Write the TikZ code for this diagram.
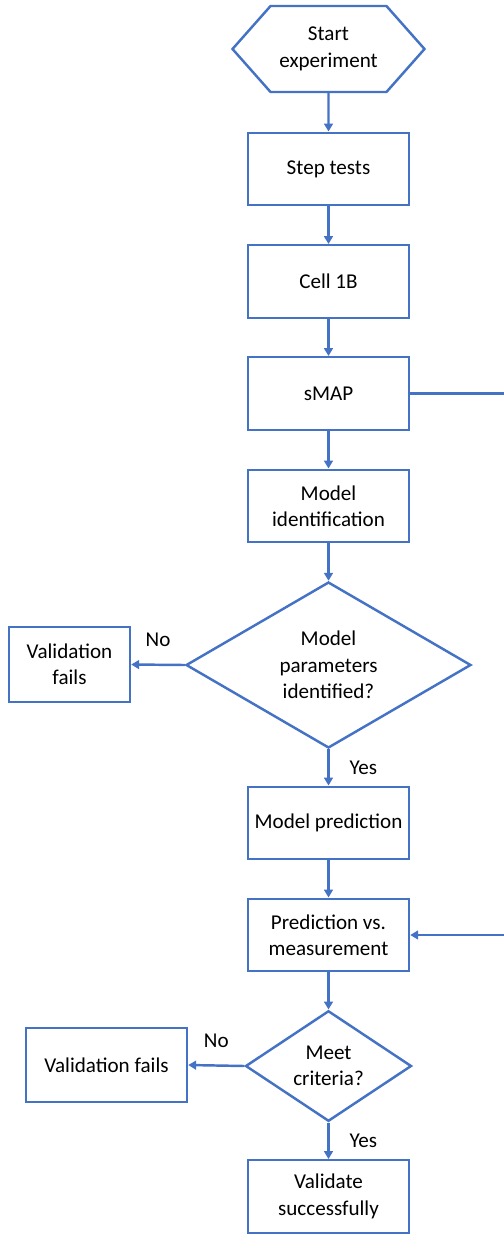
\documentclass[tikz,border=0pt]{standalone}
\usepackage{fontspec}
\setmainfont{Carlito}
\usetikzlibrary{shapes.geometric,shapes.symbols,arrows.meta}
\definecolor{flowblue}{HTML}{4472C4}

\begin{document}
\begin{tikzpicture}[
    every node/.style={font=\fontsize{12}{15}\selectfont, align=center},
    box/.style={draw=flowblue, line width=1.4pt, minimum width=3.22cm, minimum height=1.45cm, inner sep=2pt},
    decision/.style={draw=flowblue, line width=1.4pt, diamond, inner sep=0pt},
    flow/.style={draw=flowblue, line width=1.4pt, -{Triangle[length=4.5pt,width=5pt]}}
  ]
    % page frame
    \useasboundingbox (0,0) rectangle (10.08,-24.70);

    % Main column
    \node[draw=flowblue, line width=1.4pt, signal, signal to=west and east, signal pointer angle=97,
          minimum width=3.84cm, minimum height=1.72cm, inner sep=0pt] (start) at (6.57,-0.98) {Start\\experiment};
    \node[box] (steps) at (6.57,-3.38) {Step tests};
    \node[box] (cell) at (6.57,-5.63) {Cell 1B};
    \node[box] (smap) at (6.57,-7.87) {sMAP};
    \node[box] (ident) at (6.57,-10.12) {Model\\identification};
    \node[decision, minimum width=5.70cm, minimum height=3.32cm] (check) at (6.57,-13.30) {Model\\parameters\\identified?};
    \node[box, minimum width=2.42cm, minimum height=1.50cm] (failA) at (1.39,-13.29) {Validation\\fails};
    \node[box] (pred) at (6.57,-16.46) {Model prediction};
    \node[box] (compare) at (6.57,-18.70) {Prediction vs.\\measurement};
    \node[decision, minimum width=3.32cm, minimum height=2.16cm] (criteria) at (6.57,-21.32) {Meet\\criteria?};
    \node[box, minimum height=1.48cm] (failB) at (2.13,-21.30) {Validation fails};
    \node[box] (done) at (6.57,-23.93) {Validate\\successfully};

    % Arrows
    \draw[flow] (start) -- (steps);
    \draw[flow] (steps) -- (cell);
    \draw[flow] (cell) -- (smap);
    \draw[flow] (smap) -- (ident);
    \draw[flow] (ident) -- (check);
    \draw[flow] (check.west) -- node[above=6pt] {No} (failA.east);
    \draw[flow] (check.south) -- node[right=8pt] {Yes} (pred.north);
    \draw[flow] (pred) -- (compare);
    \draw[flow] (compare) -- (criteria);
    \draw[flow] (criteria.west) -- node[above=6pt] {No} (failB.east);
    \draw[flow] (criteria.south) -- node[right=8pt] {Yes} (done.north);

    % sMAP data feeds the comparison (runs off the right edge)
    \coordinate (bend) at (10.18,0);
    \draw[flow] (smap.east) -- (smap.east -| bend) -- (compare.east -| bend) -- (compare.east);
\end{tikzpicture}
\end{document}
